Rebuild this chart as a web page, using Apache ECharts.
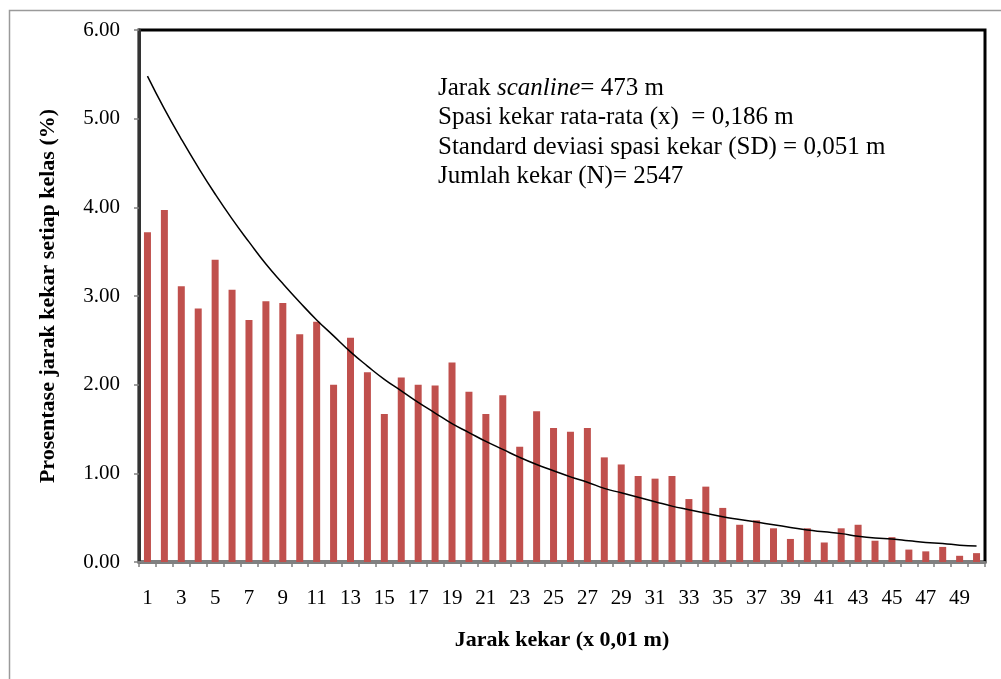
<!DOCTYPE html>
<html>
<head>
<meta charset="utf-8">
<script src="https://cdn.jsdelivr.net/npm/echarts@6/dist/echarts.min.js"></script>
<style>
html,body{margin:0;padding:0;background:#fff;}
#chart{width:1001px;height:679px;}
</style>
</head>
<body>
<div id="chart"></div>
<script>
// Categories: joint spacing class (x 0.01 m)
const categories = Array.from({length: 50}, (_, i) => String(i + 1));
// Percentage of joint spacing per class (%)
const barValues = [
  3.72, 3.97, 3.11, 2.86, 3.41, 3.07, 2.73, 2.94, 2.92, 2.57,
  2.71, 2.00, 2.53, 2.14, 1.67, 2.08, 2.00, 1.99, 2.25, 1.92,
  1.67, 1.88, 1.30, 1.70, 1.51, 1.47, 1.51, 1.18, 1.10, 0.97,
  0.94, 0.97, 0.71, 0.85, 0.61, 0.42, 0.47, 0.38, 0.26, 0.38,
  0.22, 0.38, 0.42, 0.24, 0.28, 0.14, 0.12, 0.17, 0.07, 0.10
];
// Trend curve
const trendValues = [
  5.48, 5.11, 4.77, 4.45, 4.15, 3.87, 3.61, 3.36, 3.14, 2.93,
  2.73, 2.55, 2.37, 2.21, 2.06, 1.93, 1.80, 1.68, 1.56, 1.46,
  1.36, 1.27, 1.18, 1.10, 1.03, 0.96, 0.90, 0.83, 0.78, 0.73,
  0.68, 0.63, 0.59, 0.55, 0.51, 0.48, 0.45, 0.42, 0.39, 0.36,
  0.34, 0.32, 0.29, 0.27, 0.26, 0.24, 0.22, 0.21, 0.19, 0.18
];
const yTicks = [0, 1, 2, 3, 4, 5, 6];
const yAxisTitle = 'Prosentase jarak kekar setiap kelas (%)';
const xAxisTitle = 'Jarak kekar (x 0,01 m)';
const noteLines = [
  '{n|Jarak }{i|scanline}{n|= 473 m}',
  '{n|Spasi kekar rata-rata (x)  = 0,186 m}',
  '{n|Standard deviasi spasi kekar (SD) = 0,051 m}',
  '{n|Jumlah kekar (N)= 2547}'
];

const serif = '"Liberation Serif", "DejaVu Serif", serif';
const chart = echarts.init(document.getElementById('chart'));
chart.setOption({
  animation: false,
  backgroundColor: '#fff',
  grid: {
    left: 139, top: 30, right: 16, bottom: 117,
    show: true, borderColor: '#000', borderWidth: 3, backgroundColor: 'transparent'
  },
  graphic: [
    {
      type: 'rect', left: 7, top: 8, silent: true,
      shape: {width: 1100, height: 800},
      style: {fill: 'none', stroke: '#9a9a9a', lineWidth: 1.5},
      z: -1
    },
    {
      type: 'text', left: 438, top: 76, silent: true,
      style: {
        text: noteLines.join('\n'),
        rich: {
          n: {fontFamily: serif, fontSize: 25, lineHeight: 29.3, fill: '#000'},
          i: {fontFamily: serif, fontSize: 25, lineHeight: 29.3, fontStyle: 'italic', fill: '#000'}
        }
      }
    }
  ],
  xAxis: {
    type: 'category',
    data: categories,
    boundaryGap: true,
    name: xAxisTitle,
    nameLocation: 'middle',
    nameGap: 67,
    nameTextStyle: {fontFamily: serif, fontSize: 22, fontWeight: 'bold', color: '#000'},
    axisLine: {show: true, lineStyle: {color: '#808080', width: 2}},
    axisTick: {show: true, interval: 0, length: 5, lineStyle: {color: '#808080', width: 1.5}},
    axisLabel: {interval: 1, margin: 26, fontFamily: serif, fontSize: 21, color: '#000'},
    splitLine: {show: false}
  },
  yAxis: {
    type: 'value',
    min: yTicks[0], max: yTicks[yTicks.length - 1], interval: 1,
    name: yAxisTitle,
    nameLocation: 'middle',
    nameGap: 80,
    nameRotate: 90,
    nameTextStyle: {fontFamily: serif, fontSize: 22, fontWeight: 'bold', color: '#000'},
    axisLine: {show: true, lineStyle: {color: '#333', width: 3}},
    axisTick: {show: true, length: 5, lineStyle: {color: '#808080', width: 1.5}},
    axisLabel: {margin: 19, fontFamily: serif, fontSize: 21, color: '#000',
      formatter: v => v.toFixed(2)},
    splitLine: {show: false}
  },
  series: [
    {
      type: 'bar',
      data: barValues,
      barWidth: 7,
      itemStyle: {color: '#C0504D'},
      z: 2
    },
    {
      type: 'line',
      data: trendValues,
      smooth: true,
      showSymbol: false,
      symbol: 'none',
      lineStyle: {color: '#000', width: 1.5},
      z: 3
    }
  ]
});
</script>
</body>
</html>
